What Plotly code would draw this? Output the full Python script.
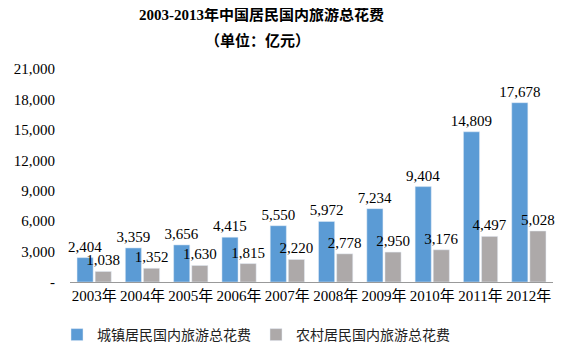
import plotly.graph_objects as go

categories = ["2003年", "2004年", "2005年", "2006年", "2007年", "2008年", "2009年", "2010年", "2011年", "2012年"]
urban = [2404, 3359, 3656, 4415, 5550, 5972, 7234, 9404, 14809, 17678]
rural = [1038, 1352, 1630, 1815, 2220, 2778, 2950, 3176, 4497, 5028]
series_names = ["城镇居民国内旅游总花费", "农村居民国内旅游总花费"]
tick_vals = [0, 3000, 6000, 9000, 12000, 15000, 18000, 21000]
tick_text = ["-", "3,000", "6,000", "9,000", "12,000", "15,000", "18,000", "21,000"]

FONT = "Liberation Serif, Times New Roman, Noto Sans CJK SC, serif"
CJK = "Noto Sans CJK SC, sans-serif"

# page is 570x356, but the body has an 8px default margin: compensate
OFF = 8
PW_, PH_ = 570, 356
W, H = PW_ - OFF, PH_ - OFF
# plot area in page pixels: x 70..553, y 69..282
ML = 70 - OFF
MT = 69 - OFF
MR = PW_ - 553
MB = PH_ - 282
pw = W - ML - MR
ph = H - MT - MB

def px_x(x):  # page px -> paper
    return (x - OFF - ML) / pw

def px_y(y):  # page px -> paper
    return (H - MB - (y - OFF)) / ph

fig = go.Figure()
fig.add_trace(go.Bar(x=categories, y=urban, name=series_names[0], marker_color="#5B9BD5",
                     text=urban, texttemplate="%{y:,}", textposition="outside", constraintext="none",
                     textfont=dict(family=FONT, size=15, color="#000"), cliponaxis=False))
fig.add_trace(go.Bar(x=categories, y=rural, name=series_names[1], marker_color="#ADA9A9",
                     text=rural, texttemplate="%{y:,}", textposition="outside", constraintext="none",
                     textfont=dict(family=FONT, size=15, color="#000"), cliponaxis=False))

fig.update_layout(
    width=W, height=H,
    margin=dict(l=ML, r=MR, t=MT, b=MB, autoexpand=False),
    paper_bgcolor="white", plot_bgcolor="white",
    barmode="group", bargap=0.25, bargroupgap=0.11,
    showlegend=True,
    legend=dict(orientation="h", xref="container", yref="container",
                x=(57 - OFF) / W, xanchor="left", y=1 - (335 - OFF) / H, yanchor="middle",
                font=dict(family=CJK, size=14, color="#222"), itemwidth=30,
                traceorder="normal"),
    annotations=[
        dict(text="<b>2003-2013年中国居民国内旅游总花费</b>", x=px_x(261), y=px_y(15),
             xref="paper", yref="paper", xanchor="center", yanchor="middle",
             showarrow=False, font=dict(family=FONT, size=15, color="#000")),
        dict(text="<b>（单位：亿元）</b>", x=px_x(257), y=px_y(40),
             xref="paper", yref="paper", xanchor="center", yanchor="middle",
             showarrow=False, font=dict(family=FONT, size=15, color="#000")),
    ],
)

fig.update_xaxes(showline=True, linecolor="#999", linewidth=1, ticks="",
                 tickfont=dict(family=FONT, size=15, color="#000"))
fig.update_yaxes(range=[0, 21000], tickvals=tick_vals, ticktext=tick_text, showgrid=False,
                 showline=False, zeroline=False, ticklabelstandoff=14,
                 tickfont=dict(family=FONT, size=15, color="#000"))

fig.write_html("out.html")
